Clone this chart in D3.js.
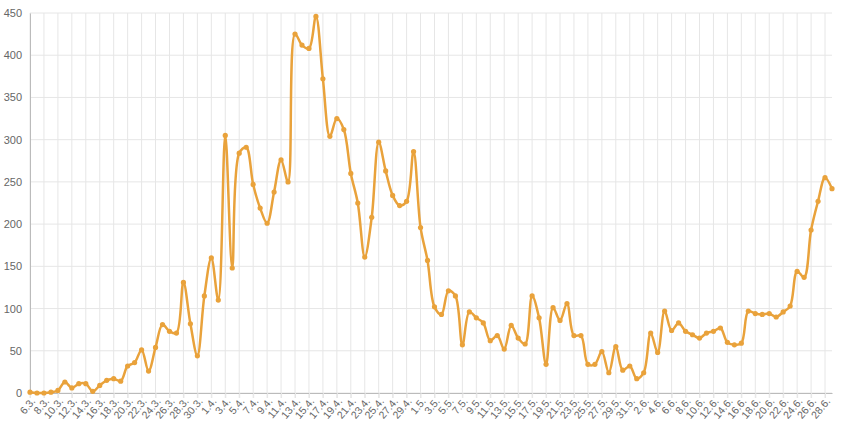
<!DOCTYPE html>
<html>
<head>
<meta charset="utf-8">
<script src="https://cdn.jsdelivr.net/npm/d3@7"></script>
<style>
  body { margin: 0; background: #fff; }
  text { font-family: "Helvetica Neue", Arial, "Liberation Sans", sans-serif; }
</style>
</head>
<body>
<div id="chart"></div>
<script>
// Daily values, 6.3. – 29.6.
const marchValues = [1, 0, 0, 1, 3, 13, 6, 11, 11, 2, 9, 15, 17, 14, 32, 36, 51, 26, 54, 81, 73, 71, 131, 82, 44, 115]
const aprilValues = [160, 110, 305, 148, 284, 291, 247, 219, 201, 238, 276, 250, 425, 412, 408, 446, 372, 304, 325, 312,
  260, 225, 161, 208, 297, 263, 234, 222, 227, 286]
const mayValues = [196, 157, 102, 93, 121, 115, 57, 96, 89, 83, 62, 68, 52, 80, 65, 58, 115, 89, 34, 101,
  86, 106, 68, 68, 34, 34, 49, 24, 55, 27, 32]
const juneValues = [17, 24, 71, 48, 97, 74, 83, 73, 69, 65, 71, 73, 77, 60, 57, 59, 97, 94, 93, 94,
  90, 96, 103, 144, 137, 193, 227, 255, 242]
const yTicks = [0, 50, 100, 150, 200, 250, 300, 350, 400, 450]

const data = []
marchValues.forEach((v, i) => data.push({ label: `${i + 6}.3.`, value: v }))
aprilValues.forEach((v, i) => data.push({ label: `${i + 1}.4.`, value: v }))
mayValues.forEach((v, i) => data.push({ label: `${i + 1}.5.`, value: v }))
juneValues.forEach((v, i) => data.push({ label: `${i + 1}.6.`, value: v }))

const width = 850
const height = 430
const margin = { top: 13, right: 18, bottom: 37, left: 30 }
const color = '#e9a23b'

const svg = d3.select('#chart').append('svg')
  .attr('width', width)
  .attr('height', height)

const x = d3.scalePoint()
  .domain(data.map(d => d.label))
  .range([margin.left, width - margin.right])

const y = d3.scaleLinear()
  .domain([0, 450])
  .range([height - margin.bottom, margin.top])

const labelled = data.filter((d, i) => i % 2 === 0).map(d => d.label)

// grid
svg.append('g')
  .selectAll('line')
  .data(yTicks)
  .enter().append('line')
  .attr('x1', margin.left).attr('x2', width - margin.right)
  .attr('y1', d => y(d)).attr('y2', d => y(d))
  .style('stroke', '#e6e6e6')

svg.append('g')
  .selectAll('line')
  .data(labelled)
  .enter().append('line')
  .attr('x1', d => x(d)).attr('x2', d => x(d))
  .attr('y1', margin.top).attr('y2', height - margin.bottom + 5)
  .style('stroke', '#e6e6e6')

// y axis
const yAxis = svg.append('g')
  .attr('transform', `translate(${margin.left},0)`)
  .call(d3.axisLeft(y).tickValues(yTicks).tickSize(0).tickPadding(8))
yAxis.select('.domain').style('stroke', '#bbb')
yAxis.selectAll('text').style('fill', '#666').style('font-size', '11px')

// x axis
const xAxis = svg.append('g')
  .attr('transform', `translate(0,${height - margin.bottom})`)
  .call(d3.axisBottom(x).tickValues(labelled).tickSize(5).tickSizeOuter(0))
xAxis.select('.domain').style('stroke', '#bbb')
xAxis.selectAll('line').style('stroke', '#e6e6e6')
xAxis.selectAll('text')
  .style('fill', '#666')
  .style('font-size', '10.5px')
  .style('text-anchor', 'end')
  .attr('y', 6)
  .attr('dx', '-0.3em')
  .attr('dy', '0.35em')
  .attr('transform', 'rotate(-50)')

// line, smoothed like the original (slight overshoot)
const line = d3.line()
  .x(d => x(d.label))
  .y(d => y(d.value))
  .curve(d3.curveCatmullRom.alpha(0.5))

svg.append('path')
  .datum(data)
  .attr('d', line)
  .style('fill', 'none')
  .style('stroke', color)
  .style('stroke-width', 2.5)

svg.append('g')
  .selectAll('circle')
  .data(data)
  .enter().append('circle')
  .attr('cx', d => x(d.label))
  .attr('cy', d => y(d.value))
  .attr('r', 2.6)
  .style('fill', color)
</script>
</body>
</html>
